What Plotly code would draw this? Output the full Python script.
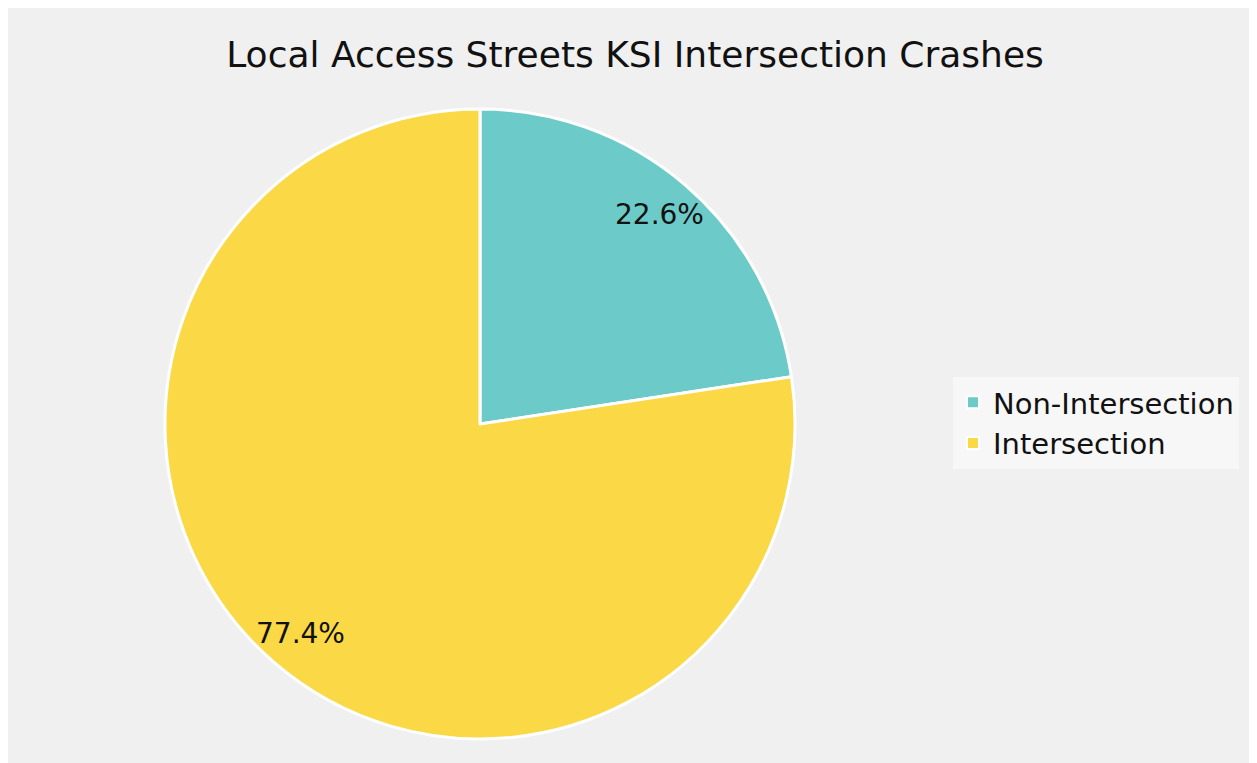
import math
import plotly.graph_objects as go

labels = ["Non-Intersection", "Intersection"]
values = [22.6, 77.4]
colors = ["#6ccbc8", "#fad846"]
title = "Local Access Streets KSI Intersection Crashes"

W, H = 1257, 763
cx, cy, R = 472, 416, 315  # pie centre / radius in px (figure coords)

fig = go.Figure()
fig.add_trace(go.Pie(
    labels=labels, values=values, sort=False, direction="clockwise", rotation=0,
    marker=dict(colors=colors, line=dict(color="white", width=3)),
    textinfo="none", hoverinfo="label+percent",
    domain=dict(x=[(cx - R) / W, (cx + R) / W], y=[1 - (cy + R) / H, 1 - (cy - R) / H]),
))

# percentage labels placed from the data (slice mid-angle)
total = sum(values)
start = 0.0
annotations = []
for v in values:
    mid = (start + v / 2) / total * 2 * math.pi
    start += v
    px = cx + 0.875 * R * math.sin(mid)
    py = cy - 0.875 * R * math.cos(mid)
    annotations.append(dict(x=px / W, y=1 - py / H, xref="paper", yref="paper",
                            xanchor="center", yanchor="middle",
                            text=f"{v / total * 100:.1f}%", showarrow=False,
                            font=dict(size=28, color="#111111")))

fig.update_layout(
    width=W, height=H,
    margin=dict(l=0, r=0, t=0, b=0),
    paper_bgcolor="#f0f0f0",
    font=dict(family="DejaVu Sans, sans-serif", color="#111111"),
    title=dict(text=title, x=627 / W, xanchor="center", y=1 - 46 / H, yanchor="middle",
               font=dict(size=36, color="#111111")),
    legend=dict(x=945 / W, xanchor="left", y=1 - 415 / H, yanchor="middle",
                bgcolor="#f7f7f7", font=dict(size=29), itemsizing="constant"),
    annotations=annotations,
)

fig.write_html("out.html")
